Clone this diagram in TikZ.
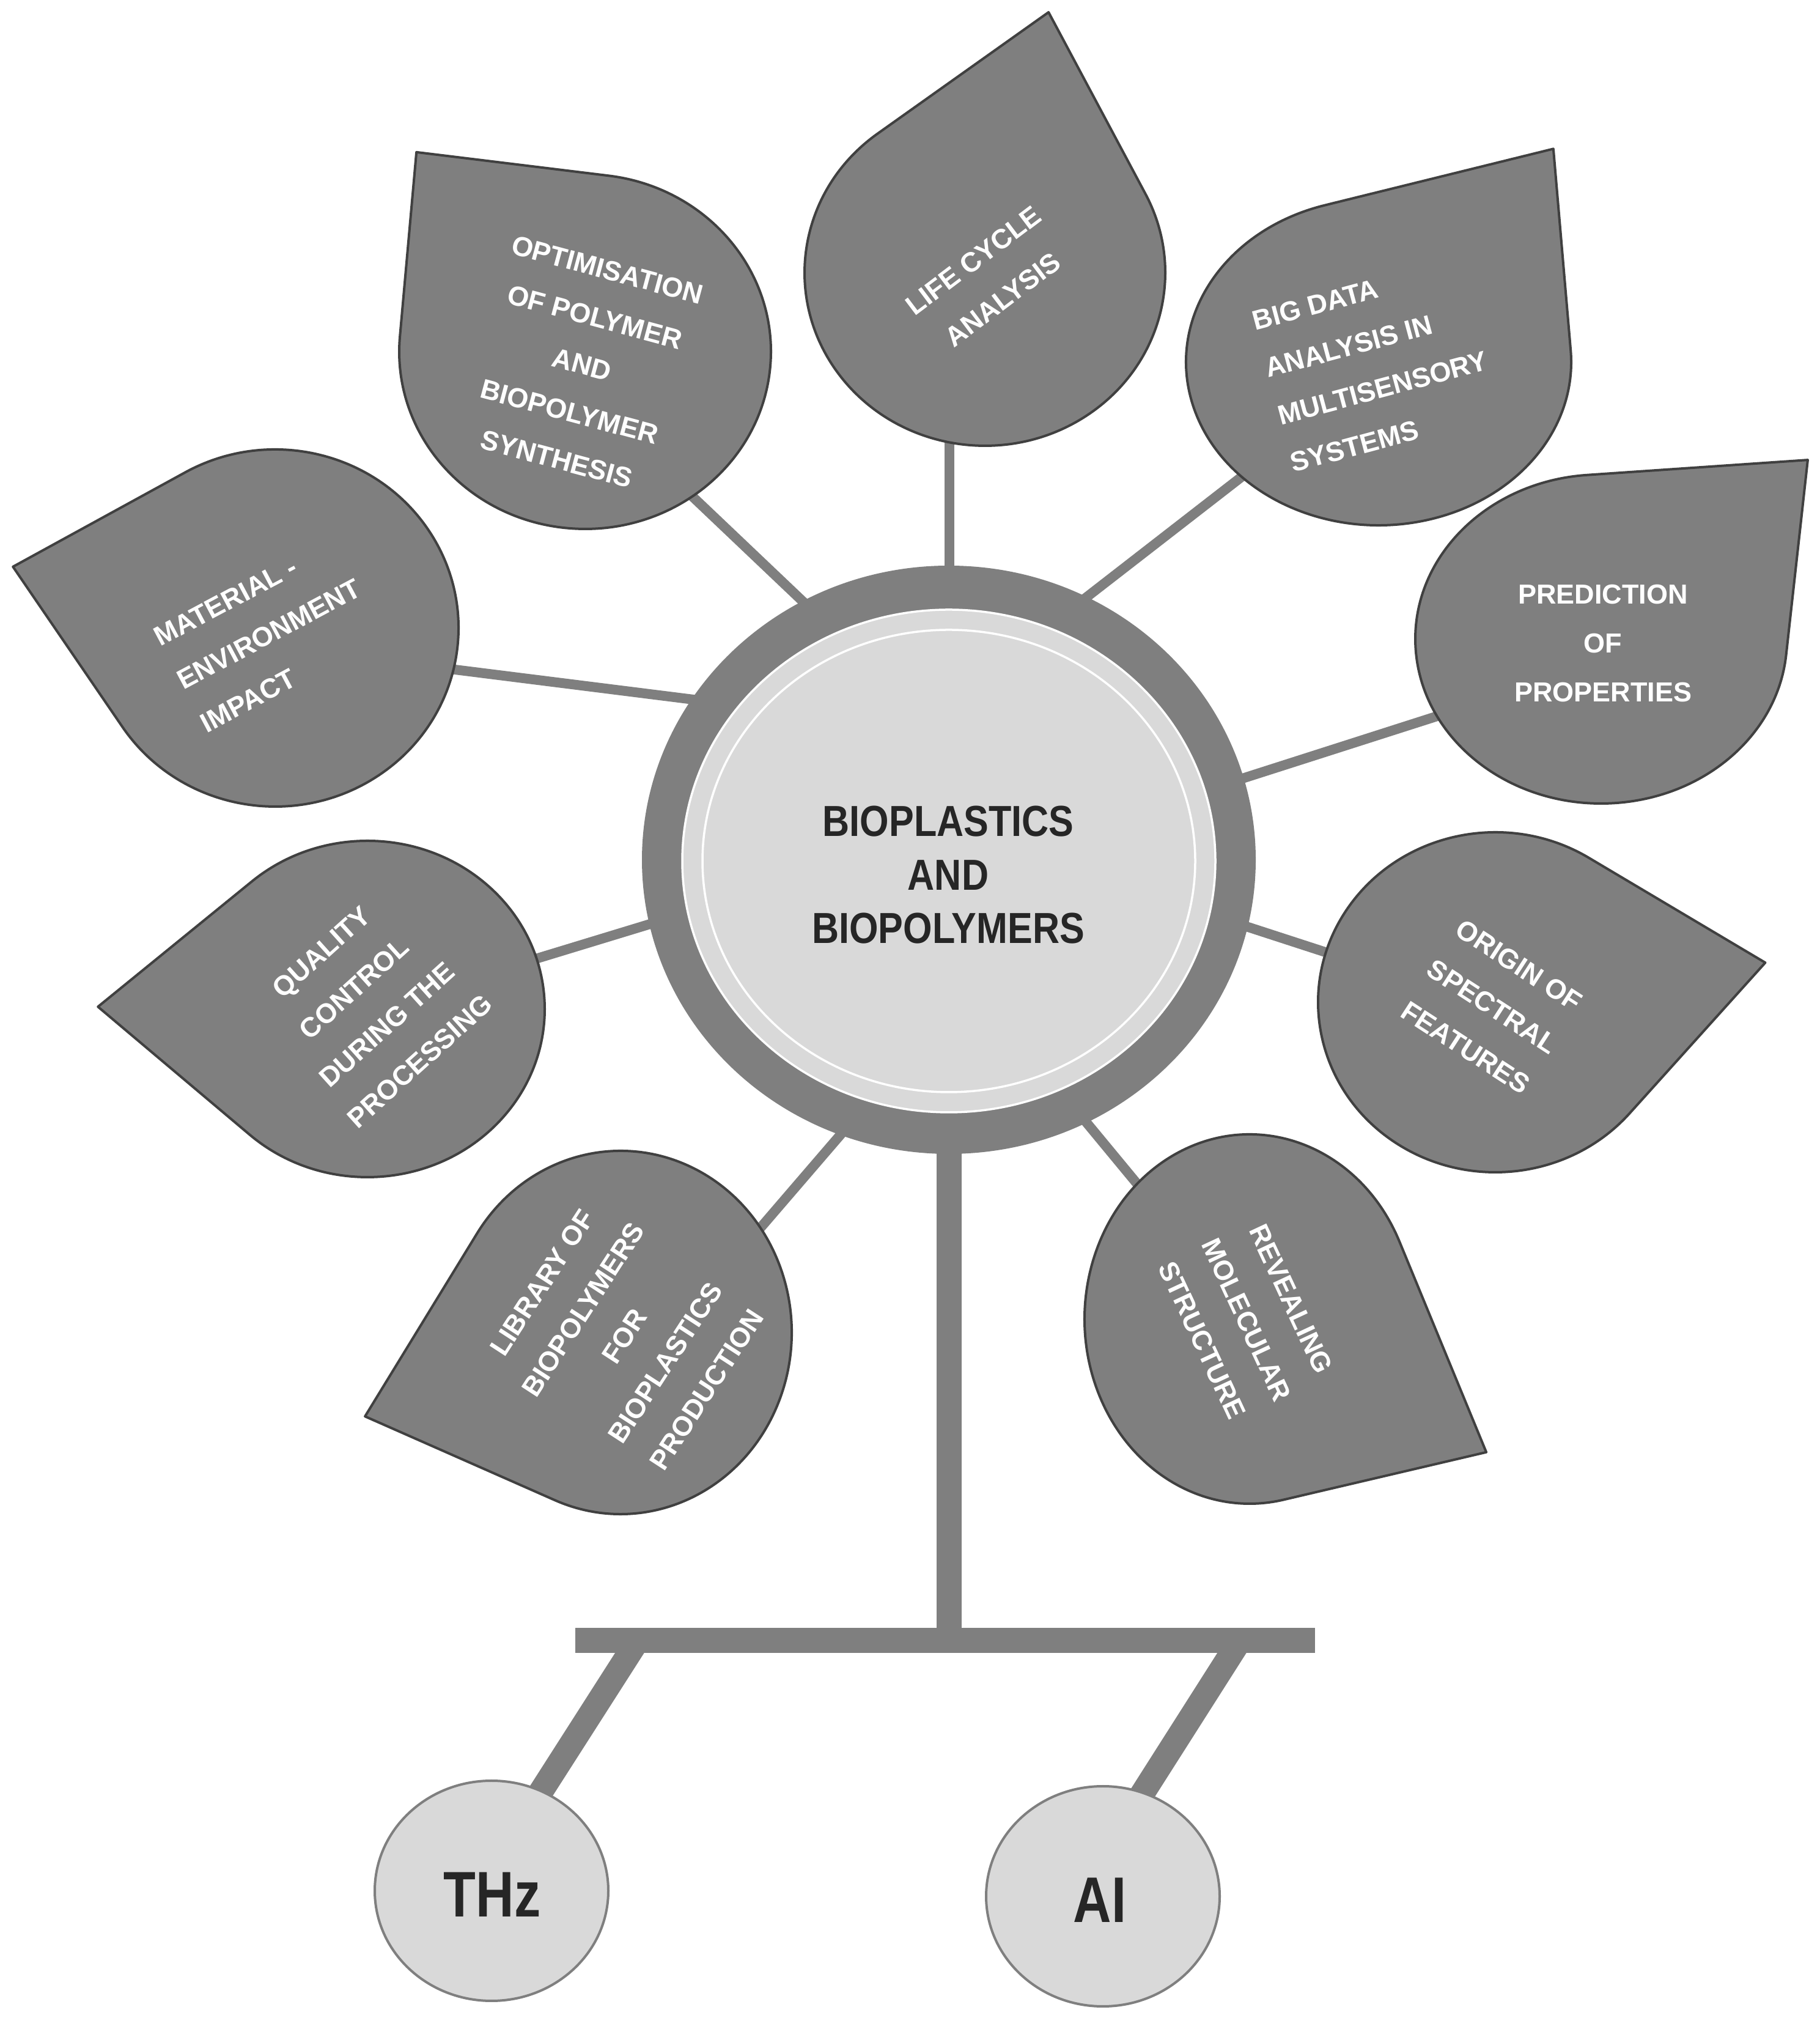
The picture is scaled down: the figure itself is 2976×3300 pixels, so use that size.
\documentclass[tikz,border=0pt]{standalone}
\usepackage{fontspec}
\setmainfont{Liberation Sans}
\newfontfamily\cfont{Liberation Sans}[FakeStretch=0.86]
\newfontfamily\tfont{Liberation Sans}[FakeStretch=0.82]
\usetikzlibrary{shapes.geometric}
\definecolor{gmid}{RGB}{127,127,127}
\definecolor{glight}{RGB}{217,217,217}
\definecolor{gdark}{RGB}{64,64,64}
\definecolor{gtext}{RGB}{38,38,38}
\tikzset{
  leafshape/.style={fill=gmid, draw=gdark, line width=0.4mm, line join=round},
  leaftext/.style={text=white, align=center, inner sep=0pt, font=\bfseries\fontsize{12.8}{22.8}\selectfont},
  stemline/.style={draw=gmid, line width=1.6mm},
  trunkline/.style={draw=gmid, line width=4.1mm},
  legline/.style={draw=gmid, line width=4.0mm},
  barshape/.style={rectangle, fill=gmid, minimum width=121mm, minimum height=4.1mm, inner sep=0pt},
  oval/.style={ellipse, fill=glight, draw=gmid, line width=0.4mm, minimum width=38.2mm, minimum height=36mm, inner sep=0pt},
  ovaltext/.style={text=gtext, inner sep=0pt, font=\tfont\bfseries\fontsize{30}{36}\selectfont},
}
\newcommand{\drawleaf}[7]{%
  \coordinate (#1) at (#2,#3);
  \pgfmathsetmacro{\lfph}{acos(1/#7)}
  \begin{scope}[shift={(#2,#3)}, xscale=#4, yscale=#5, rotate=#6]
    \path[leafshape] (#7,0) -- (\lfph:1) arc[start angle=\lfph, end angle={360-\lfph}, radius=1] -- cycle;
  \end{scope}
}
\begin{document}
\begin{tikzpicture}[x=0.1mm, y=0.1mm]
\useasboundingbox (0,0) rectangle (2976,3300);
\fill[white] (0,0) rectangle (2976,3300);

% centre and base structure
\coordinate (c) at (1552,1894);
\node[barshape] (bar) at (1546,617.5) {};
\draw[trunkline] (c) -- (c |- bar.center);
\coordinate (bl) at (1043,617.5);
\coordinate (br) at (2028,617.5);
\coordinate (thzin) at (859,330);
\coordinate (aiin) at (1845,330);
\draw[legline] (bl) -- (thzin);
\draw[legline] (br) -- (aiin);

% stems
\coordinate (s1a) at (1553,2600); \coordinate (s1b) at (1553,2340);
\coordinate (s2a) at (1120,2500); \coordinate (s2b) at (1320,2310);
\coordinate (s3a) at (2050,2535); \coordinate (s3b) at (1760,2310);
\coordinate (s4a) at (2370,2135); \coordinate (s4b) at (2020,2023);
\coordinate (s5a) at (720,2208);  \coordinate (s5b) at (1150,2154);
\coordinate (s6a) at (860,1727);  \coordinate (s6b) at (1080,1794);
\coordinate (s7a) at (2180,1739); \coordinate (s7b) at (2020,1791);
\coordinate (s8a) at (1230,1276); \coordinate (s8b) at (1390,1462);
\coordinate (s9a) at (1870,1352); \coordinate (s9b) at (1760,1485);
\foreach \i in {1,...,9} { \draw[stemline] (s\i a) -- (s\i b); }

% leaves
\drawleaf{lf1}{1611}{2854}{295}{283}{76.8}{1.546}
\drawleaf{lf2}{957}{2725}{304}{290}{128.9}{1.445}
\drawleaf{lf3}{2255}{2708}{315}{267}{55.2}{1.59}
\drawleaf{lf4}{2619}{2255}{304}{269}{44.4}{1.556}
\drawleaf{lf5}{450}{2273}{300}{292}{166.5}{1.47}
\drawleaf{lf6}{601}{1650}{290}{275}{179.5}{1.52}
\drawleaf{lf7}{2446}{1661}{290}{278}{8.7}{1.54}
\drawleaf{lf8}{1015}{1121}{280}{297}{197.2}{1.5626}
\drawleaf{lf9}{2044}{1143}{270}{302}{-26.7}{1.605}

% leaf texts
\node[leaftext, rotate=37] (t1) at (1616,2842) {LIFE CYCLE\\ANALYSIS};
\node[leaftext, rotate=-15] (t2) at (952,2704) {OPTIMISATION\\OF POLYMER\\AND\\BIOPOLYMER\\SYNTHESIS};
\node[leaftext, rotate=15, align=left] (t3) at (2251,2704) {BIG DATA\\ANALYSIS IN\\MULTISENSORY\\SYSTEMS};
\node[leaftext] (t4) at (2622,2248) {PREDICTION\\OF\\PROPERTIES};
\node[leaftext, rotate=28, align=left] (t5) at (440,2263) {MATERIAL -\\ENVIRONMENT\\IMPACT};
\node[leaftext, rotate=42] (t6) at (606,1654) {QUALITY\\CONTROL\\DURING THE\\PROCESSING};
\node[leaftext, rotate=-33] (t7) at (2441,1654) {ORIGIN OF\\SPECTRAL\\FEATURES};
\node[leaftext, rotate=57] (t8) at (1021,1115) {LIBRARY OF\\BIOPOLYMERS\\FOR\\BIOPLASTICS\\PRODUCTION};
\node[leaftext, rotate=-65] (t9) at (2039,1142) {REVEALING\\MOLECULAR\\STRUCTURE};

% central hub
\node[ellipse, fill=gmid, minimum width=100.4mm, minimum height=96.2mm, inner sep=0pt] (ring) at (c) {};
\node[ellipse, fill=glight, draw=white, line width=0.35mm, minimum width=87.2mm, minimum height=82.2mm, inner sep=0pt] (disc) at (1552,1892) {};
\node[ellipse, draw=white, line width=0.35mm, minimum width=80.6mm, minimum height=75.6mm, inner sep=0pt] (discline) at (1552,1892) {};
\node[text=gtext, align=center, inner sep=0pt, font=\cfont\bfseries\fontsize{20.2}{24.9}\selectfont] (hub) at (1551,1869) {BIOPLASTICS\\AND\\BIOPOLYMERS};

% bottom ovals
\node[oval] (thz) at (804,208) {};
\node[ovaltext] at (805,202) {THz};
\node[oval] (ai) at (1804,199) {};
\node[ovaltext] at (1799,193) {AI};
\end{tikzpicture}
\end{document}
